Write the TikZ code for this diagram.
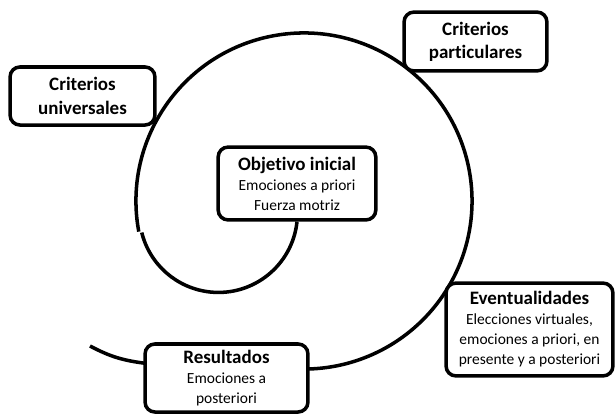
\documentclass[tikz,border=0pt]{standalone}
\usepackage{fontspec}
\setmainfont{Carlito}[Ligatures=NoCommon]
\usetikzlibrary{backgrounds}

\newcommand\boxtitle{\fontsize{13.5}{16.5}\selectfont\bfseries}

\begin{document}
\begin{tikzpicture}[x=0.025cm, y=0.025cm,
        main/.style = {draw, fill=white, line width=2.5pt, rounded corners=7pt, align=center, inner sep=2pt, font=\fontsize{11}{14.2}\selectfont},
        spiral/.style = {line width=2.5pt}]
        \useasboundingbox (0,0) rectangle (616,417);

        \node[main, font=\boxtitle, minimum width=3.62cm, minimum height=1.45cm] (univ) at (82.5,321) {Criterios\\ universales};
        \node[main, font=\boxtitle, minimum width=3.57cm, minimum height=1.47cm] (partic) at (475.5,375.5) {Criterios\\ particulares};
        \node[main, minimum width=3.94cm, minimum height=1.82cm] (obj) at (297,233.5) {{\boxtitle Objetivo inicial}\\ Emociones a priori\\ Fuerza motriz};
        \node[main, minimum width=4.17cm, minimum height=2.32cm] (event) at (529.5,87.5) {{\boxtitle Eventualidades}\\ Elecciones virtuales,\\ emociones a priori, en\\ presente y a posteriori};
        \node[main, minimum width=4.07cm, minimum height=1.7cm] (result) at (226.5,39) {{\boxtitle Resultados}\\ Emociones a\\ posteriori};
        \coordinate (tail) at (90,71);

        \begin{scope}[on background layer]
        \draw[spiral] (obj.south) arc[start angle=-6, end angle=-166, radius=1.975cm];
        \draw[spiral] (304,216) ++(190.5:4.2cm) arc[start angle=190.5, end angle=-90, radius=4.2cm] -- (143,54) to[bend left=10] (tail);
        \end{scope}
    \end{tikzpicture}
\end{document}
